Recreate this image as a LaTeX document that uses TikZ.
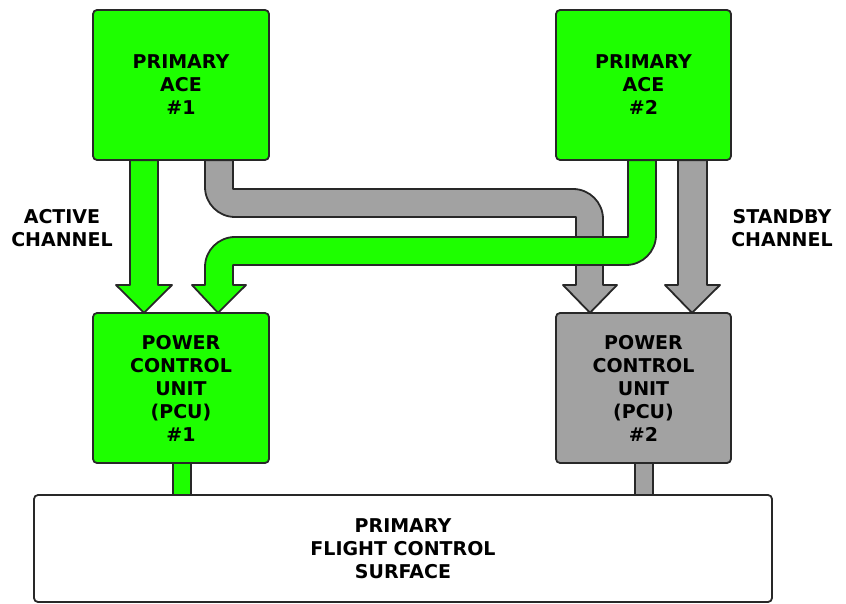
\documentclass[tikz,border=0pt]{standalone}
\usepackage{fontspec}
\setmainfont{DejaVu Sans}
\usetikzlibrary{calc}
\definecolor{acegreen}{RGB}{30,255,0}
\definecolor{standbygray}{RGB}{162,162,162}
\definecolor{edgegray}{RGB}{40,40,40}
\tikzset{
  unitbox/.style={draw=edgegray,line width=1.8pt,rounded corners=4pt,inner sep=0pt,
    minimum width=176pt,minimum height=150pt,align=center,
    font=\fontsize{19}{23}\selectfont\bfseries},
  activefill/.style={fill=acegreen,draw=edgegray,line width=1.8pt,line join=round},
  standbyfill/.style={fill=standbygray,draw=edgegray,line width=1.8pt,line join=round},
  chanlabel/.style={align=center,font=\fontsize{19}{23}\selectfont\bfseries}
}

\begin{document}
\begin{tikzpicture}[x=1pt,y=-1pt]
\useasboundingbox (0,0) rectangle (846,604);
% units (placed first, drawn again on top at the end)
\path (181,85) node[minimum width=176pt,minimum height=150pt] (ace1) {}
      (643.5,85) node[minimum width=175pt,minimum height=150pt] (ace2) {}
      (181,388) node[minimum width=176pt,minimum height=150pt] (pcu1) {}
      (643.5,388) node[minimum width=175pt,minimum height=150pt] (pcu2) {}
      (403,548.5) node[minimum width=738pt,minimum height=107pt] (surf) {};

% standby channel
\draw[standbyfill] (205,0 |- ace1.south) -- (205,187) .. controls (205,203.6) and (218.4,217) .. (235,217)
  -- (576,217) -- (576,285) -- (563,285) -- (590,0 |- pcu2.north) -- (617,285) -- (603,285)
  -- (603,219) .. controls (603,202.4) and (589.6,189) .. (573,189) -- (233,189) -- (233,0 |- ace1.south) -- cycle;
\draw[standbyfill] (678,0 |- ace2.south) -- (678,285) -- (665,285) -- (692,0 |- pcu2.north)
  -- (720,285) -- (707,285) -- (707,0 |- ace2.south) -- cycle;

% active channel
\draw[activefill] (130,0 |- ace1.south) -- (130,285) -- (116,285) -- (144,0 |- pcu1.north)
  -- (172,285) -- (158,285) -- (158,0 |- ace1.south) -- cycle;
\draw[activefill] (628,0 |- ace2.south) -- (628,237) -- (235,237) .. controls (218.4,237) and (205,250.4) .. (205,267)
  -- (205,285) -- (192,285) -- (218,0 |- pcu1.north) -- (246,285) -- (233,285)
  -- (233,265) -- (626,265) .. controls (642.6,265) and (656,251.6) .. (656,235) -- (656,0 |- ace2.south) -- cycle;

% links to the surface
\draw[activefill] (173,0 |- pcu1.south) rectangle (191,0 |- surf.north);
\draw[standbyfill] (635,0 |- pcu2.south) rectangle (653,0 |- surf.north);

% boxes
\node[unitbox,fill=acegreen] at (ace1) {PRIMARY\\ACE\\\#1};
\node[unitbox,fill=acegreen,minimum width=175pt] at (ace2) {PRIMARY\\ACE\\\#2};
\node[unitbox,fill=acegreen] at (pcu1) {POWER\\CONTROL\\UNIT\\(PCU)\\\#1};
\node[unitbox,fill=standbygray,minimum width=175pt] at (pcu2) {POWER\\CONTROL\\UNIT\\(PCU)\\\#2};
\node[unitbox,fill=white,minimum width=738pt,minimum height=107pt] at (surf) {PRIMARY\\FLIGHT CONTROL\\SURFACE};

\node[chanlabel] (activelbl) at (62,228.5) {ACTIVE\\CHANNEL};
\node[chanlabel] (standbylbl) at (782,228.5) {STANDBY\\CHANNEL};
\end{tikzpicture}
\end{document}
